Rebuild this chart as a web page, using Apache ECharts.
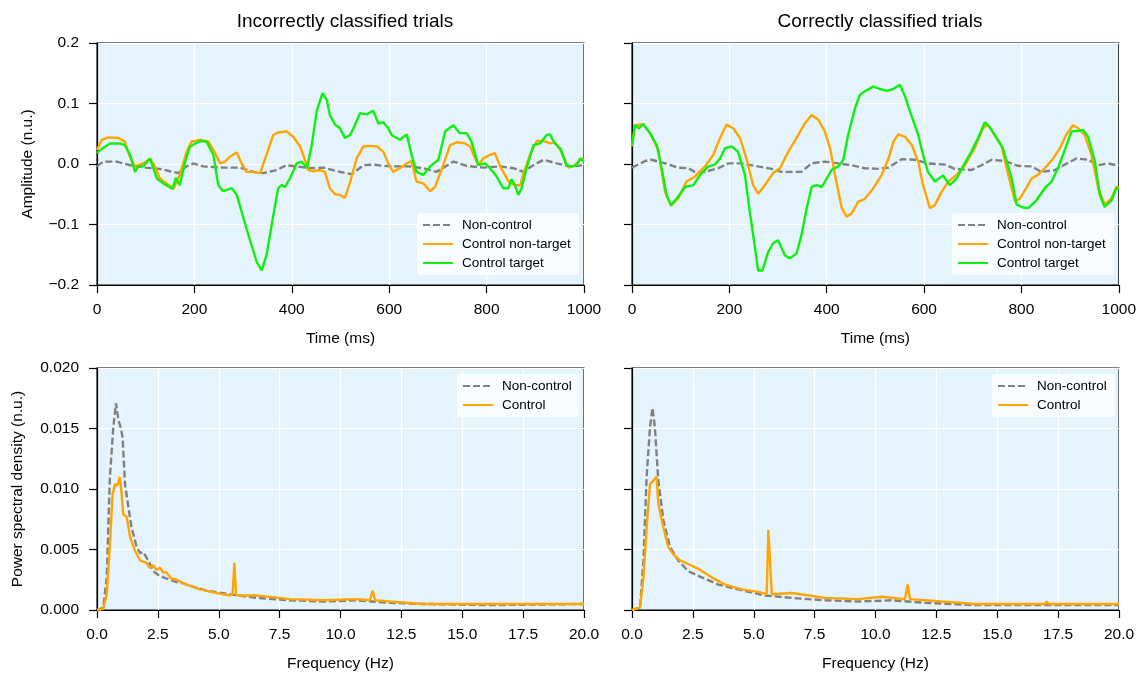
<!DOCTYPE html>
<html>
<head>
<meta charset="utf-8">
<script src="https://cdn.jsdelivr.net/npm/echarts@6/dist/echarts.min.js"></script>
<style>
  html, body { margin: 0; padding: 0; background: #fff; }
  #chart { width: 1139px; height: 673px; }
</style>
</head>
<body>
<div id="chart"></div>
<script>
  // time domain, incorrectly classified trials [ms, amplitude]
  var incNonCtrl = [[0,-0.004],[13,0.004],[40,0.004],[68,-0.002],[99,-0.006],[129,-0.008],[150,-0.012],[167,-0.015],[184,-0.004],[198,0.001],[218,-0.004],[259,-0.006],[294,-0.006],[321,-0.013],[342,-0.015],[369,-0.010],[389,-0.002],[410,-0.004],[437,-0.007],[465,-0.006],[499,-0.013],[523,-0.017],[547,-0.002],[567,-0.001],[588,-0.003],[615,-0.004],[643,-0.004],[670,-0.007],[697,-0.013],[732,0.004],[759,-0.003],[793,-0.006],[828,-0.004],[855,-0.007],[875,-0.013],[896,-0.002],[917,0.007],[944,0.001],[971,-0.004],[1000,-0.002]];
  var incCtrlNonTarget = [[0,0.023],[10,0.040],[23,0.044],[44,0.043],[57,0.037],[66,0.015],[78,-0.004],[95,0.001],[109,0.009],[119,-0.004],[129,-0.024],[143,-0.032],[157,-0.041],[170,-0.018],[184,0.020],[194,0.037],[211,0.040],[229,0.037],[239,0.023],[253,0.001],[263,0.004],[273,0.012],[287,0.019],[297,0.001],[307,-0.013],[321,-0.013],[335,-0.015],[348,0.015],[362,0.048],[372,0.052],[389,0.054],[403,0.045],[417,0.029],[427,0.007],[434,-0.010],[444,-0.012],[458,-0.010],[468,-0.013],[478,-0.040],[489,-0.050],[499,-0.051],[509,-0.056],[520,-0.029],[533,0.009],[547,0.029],[561,0.030],[575,0.029],[588,0.020],[598,0.001],[608,-0.013],[622,-0.007],[636,0.001],[646,0.005],[656,-0.029],[670,-0.032],[684,-0.045],[694,-0.038],[711,-0.002],[725,0.031],[739,0.036],[756,0.034],[766,0.029],[783,-0.002],[793,0.009],[807,0.015],[817,0.018],[828,-0.004],[845,-0.029],[858,-0.035],[869,-0.035],[875,-0.018],[889,0.015],[903,0.038],[917,0.038],[930,0.034],[940,0.036],[954,0.020],[968,-0.006],[978,-0.004],[995,0.009],[1000,0.005]];
  var incCtrlTarget = [[0,0.018],[13,0.027],[27,0.034],[47,0.034],[57,0.031],[68,0.015],[78,-0.013],[85,-0.004],[95,-0.004],[109,0.009],[123,-0.024],[136,-0.032],[155,-0.041],[162,-0.023],[170,-0.035],[181,0.004],[191,0.029],[211,0.038],[225,0.037],[239,0.015],[249,-0.035],[259,-0.045],[277,-0.040],[287,-0.051],[307,-0.107],[328,-0.162],[338,-0.176],[348,-0.151],[362,-0.085],[372,-0.040],[379,-0.035],[386,-0.038],[396,-0.024],[410,0.001],[420,0.004],[431,-0.007],[441,0.031],[451,0.087],[463,0.117],[472,0.106],[478,0.081],[489,0.065],[499,0.059],[509,0.043],[520,0.048],[530,0.065],[540,0.084],[554,0.082],[567,0.088],[578,0.067],[588,0.069],[598,0.059],[605,0.048],[622,0.040],[636,0.049],[646,0.015],[656,-0.013],[670,-0.018],[684,-0.004],[701,0.007],[715,0.054],[732,0.064],[745,0.051],[759,0.051],[769,0.037],[783,-0.002],[797,0.001],[807,-0.007],[821,-0.021],[834,-0.040],[845,-0.040],[851,-0.025],[858,-0.035],[865,-0.051],[872,-0.040],[882,-0.007],[896,0.031],[910,0.034],[923,0.048],[930,0.049],[940,0.034],[951,0.026],[964,-0.002],[975,-0.004],[985,-0.002],[992,0.009],[1000,0.004]];

  // time domain, correctly classified trials
  var corNonCtrl = [[0,-0.006],[27,0.005],[40,0.007],[68,0.001],[95,-0.006],[116,-0.007],[129,-0.013],[150,-0.013],[177,-0.007],[198,0.001],[225,0.001],[259,-0.004],[287,-0.008],[307,-0.013],[348,-0.013],[369,0.001],[396,0.004],[424,0.001],[451,-0.002],[478,-0.007],[506,-0.008],[527,-0.006],[554,0.008],[581,0.007],[608,0.001],[643,-0.001],[663,-0.008],[697,-0.010],[718,-0.002],[739,0.007],[766,0.005],[793,-0.003],[821,-0.004],[841,-0.013],[869,-0.010],[889,-0.001],[913,0.009],[937,0.007],[958,-0.002],[978,0.001],[1000,-0.003]];
  var corCtrlNonTarget = [[0,0.029],[6,0.064],[23,0.066],[37,0.051],[54,0.023],[68,-0.046],[80,-0.069],[95,-0.057],[112,-0.029],[129,-0.021],[150,-0.004],[167,0.015],[181,0.043],[194,0.065],[208,0.059],[222,0.043],[235,0.009],[249,-0.035],[259,-0.049],[273,-0.035],[290,-0.015],[304,-0.007],[321,0.020],[338,0.043],[355,0.067],[369,0.081],[383,0.073],[396,0.054],[407,0.026],[417,-0.018],[431,-0.073],[441,-0.087],[451,-0.082],[465,-0.062],[478,-0.058],[496,-0.040],[513,-0.018],[527,0.009],[537,0.037],[547,0.049],[561,0.045],[575,0.031],[588,0.004],[598,-0.035],[612,-0.073],[622,-0.068],[636,-0.046],[650,-0.029],[667,-0.018],[684,-0.002],[704,0.026],[721,0.059],[731,0.065],[745,0.048],[759,0.031],[773,-0.018],[787,-0.062],[797,-0.057],[810,-0.040],[821,-0.024],[834,-0.018],[848,-0.007],[865,0.009],[879,0.026],[892,0.048],[906,0.064],[917,0.059],[930,0.048],[944,0.015],[958,-0.040],[971,-0.067],[985,-0.057],[995,-0.038],[1000,-0.038]];
  var corCtrlTarget = [[0,0.031],[6,0.064],[14,0.059],[23,0.066],[37,0.051],[51,0.031],[61,-0.007],[71,-0.051],[80,-0.068],[92,-0.057],[109,-0.038],[126,-0.035],[140,-0.018],[157,-0.004],[170,-0.001],[181,0.009],[191,0.026],[205,0.029],[218,0.020],[232,-0.018],[242,-0.079],[253,-0.140],[259,-0.176],[268,-0.176],[280,-0.145],[290,-0.131],[300,-0.126],[314,-0.151],[324,-0.156],[338,-0.148],[348,-0.118],[359,-0.073],[369,-0.038],[379,-0.035],[390,-0.038],[400,-0.024],[410,-0.010],[424,-0.004],[434,0.007],[444,0.048],[458,0.092],[468,0.114],[478,0.120],[496,0.128],[509,0.124],[523,0.121],[537,0.124],[550,0.131],[560,0.114],[571,0.087],[588,0.048],[598,0.015],[608,-0.013],[622,-0.029],[639,-0.019],[653,-0.035],[667,-0.024],[680,-0.004],[697,0.020],[711,0.043],[725,0.069],[735,0.061],[745,0.048],[762,0.026],[780,-0.024],[790,-0.067],[804,-0.072],[814,-0.073],[831,-0.060],[848,-0.040],[862,-0.029],[875,-0.007],[889,0.023],[903,0.054],[917,0.055],[927,0.056],[937,0.045],[951,0.004],[961,-0.051],[971,-0.071],[985,-0.060],[995,-0.040],[1000,-0.041]];

  // power spectral density [Hz, PSD]
  var incPsdNonCtrl = [[0,0],[0.26,0.0002],[0.40,0.0027],[0.53,0.0110],[0.67,0.0151],[0.78,0.0171],[0.88,0.0157],[0.97,0.0151],[1.05,0.0143],[1.15,0.0104],[1.29,0.0085],[1.42,0.0068],[1.63,0.0052],[1.77,0.0047],[1.90,0.0048],[2.04,0.0043],[2.11,0.0041],[2.31,0.0032],[2.52,0.0029],[2.72,0.0027],[3.00,0.0025],[3.27,0.0023],[3.55,0.0022],[3.82,0.0020],[4.50,0.0016],[5.46,0.0013],[6.56,0.0010],[7.93,0.0008],[9.29,0.0007],[10.66,0.0008],[12.03,0.0006],[13.40,0.0005],[16.14,0.0004],[20,0.0005]];
  var incPsdCtrl = [[0,0],[0.26,0.0001],[0.40,0.0013],[0.53,0.0054],[0.64,0.0096],[0.74,0.0104],[0.84,0.0103],[0.94,0.0110],[1.01,0.0096],[1.08,0.0079],[1.22,0.0077],[1.36,0.0060],[1.56,0.0049],[1.77,0.0041],[2.04,0.0039],[2.15,0.0035],[2.31,0.0037],[2.45,0.0033],[2.59,0.0035],[2.72,0.0031],[2.86,0.0031],[3.05,0.0026],[3.27,0.0025],[3.45,0.0023],[3.68,0.0021],[4.23,0.0017],[4.91,0.0014],[5.46,0.0012],[5.57,0.0013],[5.64,0.0039],[5.71,0.0013],[5.80,0.0012],[6.56,0.0012],[7.93,0.0009],[9.29,0.0008],[10.66,0.0009],[11.21,0.0008],[11.32,0.0016],[11.42,0.0008],[12.03,0.0007],[13.40,0.0005],[14.77,0.0005],[16.14,0.0005],[17.51,0.0005],[18.88,0.0005],[20,0.0005]];
  var corPsdNonCtrl = [[0,0],[0.33,0.0002],[0.47,0.0041],[0.60,0.0110],[0.74,0.0151],[0.84,0.0167],[0.94,0.0151],[1.08,0.0107],[1.29,0.0074],[1.56,0.0052],[1.90,0.0041],[2.31,0.0032],[2.86,0.0027],[3.55,0.0021],[4.37,0.0017],[5.46,0.0012],[6.56,0.0010],[7.93,0.0008],[9.29,0.0007],[10.66,0.0008],[12.03,0.0006],[14.09,0.0004],[20,0.0004]];
  var corPsdCtrl = [[0,0],[0.33,0.0002],[0.47,0.0027],[0.60,0.0068],[0.74,0.0104],[0.88,0.0107],[1.01,0.0110],[1.08,0.0088],[1.29,0.0068],[1.49,0.0052],[1.70,0.0046],[1.97,0.0041],[2.31,0.0038],[2.72,0.0034],[3.27,0.0027],[3.82,0.0021],[4.50,0.0017],[5.19,0.0015],[5.53,0.0013],[5.60,0.0066],[5.68,0.0066],[5.74,0.0013],[6.56,0.0014],[7.93,0.0010],[9.29,0.0009],[10.25,0.0011],[11.21,0.0009],[11.32,0.0021],[11.42,0.0009],[12.72,0.0007],[14.09,0.0005],[16.96,0.0005],[17.03,0.0007],[17.10,0.0005],[20,0.0005]];

  var titles = ['Incorrectly classified trials', 'Correctly classified trials'];

  var font = 'Liberation Sans, Arial, sans-serif';
  var grey = '#808080', orange = '#FFA500', green = '#0EF00E';
  var plotLeft = [97, 632], plotTop = [43, 368], plotW = 487, plotH = 242;

  var chart = echarts.init(document.getElementById('chart'));

  var grids = [], xAxes = [], yAxes = [], legends = [], series = [];
  [0, 1].forEach(function (row) {
    [0, 1].forEach(function (col) {
      var i = row * 2 + col;
      grids.push({
        left: plotLeft[col], top: plotTop[row], width: plotW, height: plotH,
        show: true, backgroundColor: '#E5F3FC', borderColor: '#000', borderWidth: 1.2
      });
      xAxes.push({
        gridIndex: i, type: 'value',
        min: 0, max: row == 0 ? 1000 : 20, interval: row == 0 ? 200 : 2.5,
        name: row == 0 ? 'Time (ms)' : 'Frequency (Hz)',
        nameLocation: 'middle', nameGap: 46,
        nameTextStyle: {color: '#000', fontSize: 15.5, fontFamily: font},
        axisLine: {show: true, onZero: false, lineStyle: {color: '#000', width: 1.2}},
        axisTick: {show: true, length: 8, lineStyle: {color: '#000', width: 1.2}},
        axisLabel: {
          color: '#000', fontSize: 15.5, fontFamily: font, margin: 17,
          formatter: function (v) { return row == 0 ? String(Math.round(v)) : v.toFixed(1); }
        },
        splitLine: {show: true, lineStyle: {color: '#fff', width: 1.2}}
      });
      yAxes.push({
        gridIndex: i, type: 'value',
        min: row == 0 ? -0.2 : 0, max: row == 0 ? 0.2 : 0.02, interval: row == 0 ? 0.1 : 0.005,
        name: col == 0 ? (row == 0 ? 'Amplitude (n.u.)' : 'Power spectral density (n.u.)') : '',
        nameLocation: 'middle', nameGap: row == 0 ? 61 : 71,
        nameTextStyle: {color: '#000', fontSize: 15.5, fontFamily: font},
        axisLine: {show: true, onZero: false, lineStyle: {color: '#000', width: 1.2}},
        axisTick: {show: true, length: 8, lineStyle: {color: '#000', width: 1.2}},
        axisLabel: {
          show: col == 0, color: '#000', fontSize: 15.5, fontFamily: font, margin: 18,
          formatter: function (v) {
            var s = row == 0 ? v.toFixed(1) : v.toFixed(3);
            if (Math.abs(v) < 1e-9) s = row == 0 ? '0.0' : '0.000';
            return s.replace('-', '\u2212');
          }
        },
        splitLine: {show: true, lineStyle: {color: '#fff', width: 1.2}}
      });
    });
  });

  function line(name, data, idx, color, dashed) {
    return {
      name: name, type: 'line', data: data, xAxisIndex: idx, yAxisIndex: idx,
      showSymbol: false, symbol: 'none', animation: false, silent: true,
      lineStyle: {color: color, width: 2.4, type: dashed ? [7, 3] : 'solid'},
      itemStyle: {color: color}
    };
  }

  series.push(line('Non-control', incNonCtrl, 0, grey, true));
  series.push(line('Control non-target', incCtrlNonTarget, 0, orange));
  series.push(line('Control target', incCtrlTarget, 0, green));
  series.push(line('Non-control ', corNonCtrl, 1, grey, true));
  series.push(line('Control non-target ', corCtrlNonTarget, 1, orange));
  series.push(line('Control target ', corCtrlTarget, 1, green));
  series.push(line('Non-control  ', incPsdNonCtrl, 2, grey, true));
  series.push(line('Control  ', incPsdCtrl, 2, orange));
  series.push(line('Non-control   ', corPsdNonCtrl, 3, grey, true));
  series.push(line('Control   ', corPsdCtrl, 3, orange));

  var legendBase = {
    orient: 'vertical', itemWidth: 30, itemHeight: 10, itemGap: 5,
    backgroundColor: 'rgba(255,255,255,0.8)', borderRadius: 4,
    padding: [5, 8, 5, 5],
    itemStyle: {opacity: 0},
    textStyle: {color: '#000', fontSize: 13.5, fontFamily: font, padding: [0, 0, 0, 4]},
    formatter: function (n) { return n.trim(); },
    selectedMode: false
  };
  legends.push(Object.assign({}, legendBase, {left: 417, top: 213, data: ['Non-control', 'Control non-target', 'Control target']}));
  legends.push(Object.assign({}, legendBase, {left: 952, top: 213, data: ['Non-control ', 'Control non-target ', 'Control target ']}));
  legends.push(Object.assign({}, legendBase, {left: 457, top: 374, data: ['Non-control  ', 'Control  ']}));
  legends.push(Object.assign({}, legendBase, {left: 992, top: 374, data: ['Non-control   ', 'Control   ']}));

  chart.setOption({
    animation: false,
    title: [
      {text: titles[0], left: 340, top: 7, textAlign: 'center', textStyle: {color: '#000', fontSize: 19, fontWeight: 'normal', fontFamily: font}},
      {text: titles[1], left: 875, top: 7, textAlign: 'center', textStyle: {color: '#000', fontSize: 19, fontWeight: 'normal', fontFamily: font}}
    ],
    grid: grids,
    xAxis: xAxes,
    yAxis: yAxes,
    legend: legends,
    series: series
  });
</script>
</body>
</html>
